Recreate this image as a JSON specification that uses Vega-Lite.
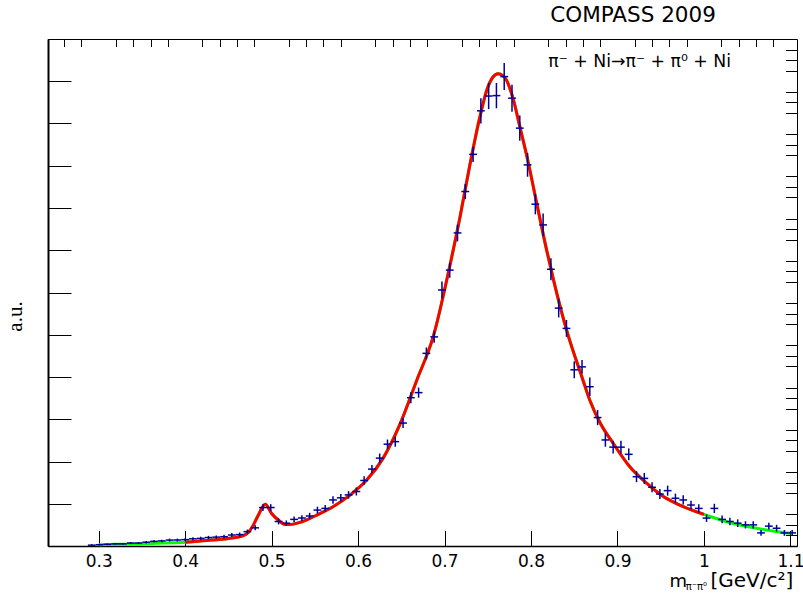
{
  "$schema": "https://vega.github.io/schema/vega-lite/v6.json",
  "width": 749,
  "height": 507,
  "autosize": {"type": "none"},
  "padding": {"left": 48, "top": 39, "right": 6, "bottom": 51},
  "background": "white",
  "config": {"view": {"stroke": "black", "strokeWidth": 1}, "axis": {"grid": false}},
  "datasets": {
    "points": [
      {"m":0.292,"y":0.02,"e":0.02},{"m":0.301,"y":0.03,"e":0.02},{"m":0.310,"y":0.04,"e":0.02},{"m":0.319,"y":0.05,"e":0.02},
      {"m":0.328,"y":0.05,"e":0.02},{"m":0.337,"y":0.07,"e":0.025},{"m":0.346,"y":0.07,"e":0.025},{"m":0.355,"y":0.09,"e":0.03},
      {"m":0.364,"y":0.11,"e":0.03},{"m":0.373,"y":0.12,"e":0.03},{"m":0.382,"y":0.14,"e":0.035},{"m":0.391,"y":0.14,"e":0.035},
      {"m":0.400,"y":0.15,"e":0.035},{"m":0.409,"y":0.17,"e":0.04},{"m":0.418,"y":0.18,"e":0.04},{"m":0.427,"y":0.20,"e":0.04},
      {"m":0.436,"y":0.21,"e":0.04},{"m":0.445,"y":0.22,"e":0.045},{"m":0.454,"y":0.26,"e":0.045},{"m":0.463,"y":0.27,"e":0.05},
      {"m":0.472,"y":0.34,"e":0.05},{"m":0.481,"y":0.43,"e":0.06},{"m":0.490,"y":0.91,"e":0.08},{"m":0.499,"y":0.91,"e":0.08},
      {"m":0.508,"y":0.58,"e":0.07},{"m":0.517,"y":0.54,"e":0.065},{"m":0.526,"y":0.63,"e":0.07},{"m":0.535,"y":0.66,"e":0.07},
      {"m":0.544,"y":0.71,"e":0.075},{"m":0.553,"y":0.85,"e":0.08},{"m":0.562,"y":0.89,"e":0.08},{"m":0.571,"y":1.09,"e":0.09},
      {"m":0.580,"y":1.14,"e":0.09},{"m":0.589,"y":1.21,"e":0.09},{"m":0.598,"y":1.29,"e":0.095},{"m":0.607,"y":1.55,"e":0.10},
      {"m":0.616,"y":1.82,"e":0.10},{"m":0.625,"y":2.08,"e":0.11},{"m":0.634,"y":2.41,"e":0.11},{"m":0.643,"y":2.47,"e":0.12},
      {"m":0.652,"y":2.91,"e":0.12},{"m":0.661,"y":3.51,"e":0.13},{"m":0.670,"y":3.63,"e":0.12},{"m":0.679,"y":4.56,"e":0.14},
      {"m":0.688,"y":4.95,"e":0.14},{"m":0.697,"y":6.06,"e":0.2},{"m":0.706,"y":6.53,"e":0.18},{"m":0.715,"y":7.41,"e":0.2},
      {"m":0.724,"y":8.39,"e":0.18},{"m":0.733,"y":9.27,"e":0.18},{"m":0.742,"y":10.30,"e":0.3},{"m":0.751,"y":10.65,"e":0.31},
      {"m":0.760,"y":10.66,"e":0.3},{"m":0.769,"y":11.11,"e":0.32},{"m":0.778,"y":10.60,"e":0.32},{"m":0.787,"y":9.89,"e":0.3},
      {"m":0.796,"y":9.02,"e":0.28},{"m":0.805,"y":8.09,"e":0.24},{"m":0.814,"y":7.60,"e":0.27},{"m":0.823,"y":6.55,"e":0.26},
      {"m":0.832,"y":5.63,"e":0.22},{"m":0.841,"y":5.15,"e":0.2},{"m":0.850,"y":4.17,"e":0.2},{"m":0.859,"y":4.24,"e":0.16},
      {"m":0.868,"y":3.77,"e":0.22},{"m":0.877,"y":3.04,"e":0.18},{"m":0.886,"y":2.51,"e":0.16},{"m":0.895,"y":2.34,"e":0.15},
      {"m":0.904,"y":2.34,"e":0.15},{"m":0.913,"y":2.17,"e":0.14},{"m":0.922,"y":1.64,"e":0.13},{"m":0.931,"y":1.60,"e":0.13},
      {"m":0.940,"y":1.39,"e":0.12},{"m":0.949,"y":1.23,"e":0.12},{"m":0.958,"y":1.31,"e":0.12},{"m":0.967,"y":1.13,"e":0.11},
      {"m":0.976,"y":1.09,"e":0.11},{"m":0.985,"y":0.97,"e":0.1},{"m":0.994,"y":0.89,"e":0.1},{"m":1.003,"y":0.66,"e":0.09},
      {"m":1.012,"y":0.89,"e":0.11},{"m":1.021,"y":0.63,"e":0.09},{"m":1.030,"y":0.58,"e":0.09},{"m":1.039,"y":0.54,"e":0.09},
      {"m":1.048,"y":0.50,"e":0.085},{"m":1.057,"y":0.50,"e":0.085},{"m":1.066,"y":0.31,"e":0.07},{"m":1.075,"y":0.47,"e":0.08},
      {"m":1.084,"y":0.42,"e":0.08},{"m":1.093,"y":0.31,"e":0.07},{"m":1.102,"y":0.31,"e":0.07}
    ],
    "fit": [
      {"m":0.300,"y":0.03},{"m":0.325,"y":0.04},{"m":0.350,"y":0.05},{"m":0.375,"y":0.07},{"m":0.400,"y":0.09},
      {"m":0.425,"y":0.13},{"m":0.450,"y":0.18},{"m":0.465,"y":0.23},{"m":0.473,"y":0.32},{"m":0.479,"y":0.50},
      {"m":0.4846,"y":0.73},{"m":0.4926,"y":0.99},{"m":0.500,"y":0.77},{"m":0.5077,"y":0.615},{"m":0.5154,"y":0.51},
      {"m":0.521,"y":0.51},{"m":0.535,"y":0.575},{"m":0.554,"y":0.75},{"m":0.571,"y":0.93},{"m":0.591,"y":1.21},
      {"m":0.610,"y":1.56},{"m":0.629,"y":2.08},{"m":0.648,"y":2.86},{"m":0.668,"y":3.93},{"m":0.687,"y":4.96},
      {"m":0.706,"y":6.62},{"m":0.718,"y":7.80},{"m":0.729,"y":8.99},{"m":0.741,"y":10.17},{"m":0.749,"y":10.80},
      {"m":0.756,"y":11.10},{"m":0.762,"y":11.18},{"m":0.770,"y":11.08},{"m":0.7795,"y":10.57},{"m":0.787,"y":9.93},
      {"m":0.797,"y":9.06},{"m":0.8065,"y":8.12},{"m":0.818,"y":7.01},{"m":0.826,"y":6.30},{"m":0.841,"y":5.12},
      {"m":0.860,"y":3.93},{"m":0.868,"y":3.45},{"m":0.880,"y":2.91},{"m":0.895,"y":2.43},{"m":0.914,"y":1.88},
      {"m":0.934,"y":1.48},{"m":0.953,"y":1.17},{"m":0.972,"y":0.97},{"m":0.997,"y":0.77},{"m":1.000,"y":0.75},
      {"m":1.030,"y":0.55},{"m":1.061,"y":0.42},{"m":1.096,"y":0.31},{"m":1.100,"y":0.30}
    ]
  },
  "layer": [
    {
      "data": {"name": "fit"},
      "mark": {"type": "line", "color": "#00ff00", "strokeWidth": 3, "interpolate": "monotone"},
      "encoding": {
        "x": {"field": "m", "type": "quantitative", "scale": {"domain": [0.2414, 1.1076], "nice": false, "zero": false}, "axis": null},
        "y": {"field": "y", "type": "quantitative", "scale": {"domain": [0, 12], "nice": false}, "axis": null}
      }
    },
    {
      "data": {"name": "fit"},
      "transform": [{"filter": "datum.m >= 0.4 && datum.m <= 1.0"}],
      "mark": {"type": "line", "color": "#ff0000", "strokeWidth": 3, "interpolate": "monotone"},
      "encoding": {
        "x": {"field": "m", "type": "quantitative", "scale": {"domain": [0.2414, 1.1076], "nice": false, "zero": false}, "axis": null},
        "y": {"field": "y", "type": "quantitative", "scale": {"domain": [0, 12], "nice": false}, "axis": null}
      }
    },
    {
      "data": {"name": "points"},
      "mark": {"type": "errorbar", "color": "#000099", "thickness": 1.5},
      "encoding": {
        "x": {"field": "m", "type": "quantitative", "scale": {"domain": [0.2414, 1.1076], "nice": false, "zero": false},
          "axis": {"values": [0.3,0.4,0.5,0.6,0.7,0.8,0.9,1.0,1.1], "format": ".1~f", "tickSize": -15.5, "tickColor": "black", "tickWidth": 1,
            "labelFont": "DejaVu Sans", "labelFontSize": 17, "labelColor": "black", "labelPadding": 22.5, "labelFlush": false, "labelOverlap": false,
            "domain": true, "domainColor": "black", "domainWidth": 1.5, "title": null, "grid": false}},
        "y": {"field": "y", "type": "quantitative", "scale": {"domain": [0, 12], "nice": false},
          "axis": {"values": [0,1,2,3,4,5,6,7,8,9,10,11,12], "tickSize": -23, "tickColor": "black", "tickWidth": 1, "labels": false,
            "domain": true, "domainColor": "black", "domainWidth": 2, "grid": false,
            "title": "a.u.", "titleFont": "Liberation Serif", "titleFontSize": 21, "titleFontWeight": "normal", "titleColor": "black",
            "titleAngle": -90, "titleAlign": "center", "titleBaseline": "alphabetic", "titleX": -27, "titleY": 277}},
        "yError": {"field": "e"}
      }
    },
    {
      "data": {"name": "points"},
      "mark": {"type": "tick", "orient": "horizontal", "size": 7.8, "thickness": 1.5, "color": "#000099", "opacity": 1},
      "encoding": {
        "x": {"field": "m", "type": "quantitative", "scale": {"domain": [0.2414, 1.1076], "nice": false, "zero": false},
          "axis": {"values": [0.26,0.28,0.32,0.34,0.36,0.38,0.42,0.44,0.46,0.48,0.52,0.54,0.56,0.58,0.62,0.64,0.66,0.68,0.72,0.74,0.76,0.78,0.82,0.84,0.86,0.88,0.92,0.94,0.96,0.98,1.02,1.04,1.06,1.08],
            "tickSize": -7.5, "tickColor": "black", "tickWidth": 1, "labels": false, "domain": false, "title": null, "grid": false}},
        "y": {"field": "y", "type": "quantitative", "scale": {"domain": [0, 12], "nice": false},
          "axis": {"values": [0.25,0.5,0.75,1.25,1.5,1.75,2.25,2.5,2.75,3.25,3.5,3.75,4.25,4.5,4.75,5.25,5.5,5.75,6.25,6.5,6.75,7.25,7.5,7.75,8.25,8.5,8.75,9.25,9.5,9.75,10.25,10.5,10.75,11.25,11.5,11.75],
            "tickSize": -11.5, "tickColor": "black", "tickWidth": 1, "labels": false, "domain": false, "title": null, "grid": false}}
      }
    },
    {
      "data": {"values": [{}]},
      "mark": {"type": "text", "text": "COMPASS 2009", "font": "DejaVu Sans", "fontSize": 21.5, "align": "center", "baseline": "alphabetic", "color": "black"},
      "encoding": {
        "x": {"datum": 0.918, "type": "quantitative", "axis": null},
        "y": {"datum": 12.41, "type": "quantitative", "axis": null}
      }
    },
    {
      "data": {"values": [{}]},
      "mark": {"type": "text", "text": "π⁻ + Ni→π⁻ + π⁰ + Ni", "font": "DejaVu Sans", "fontSize": 17.3, "align": "left", "baseline": "alphabetic", "color": "black"},
      "encoding": {
        "x": {"datum": 0.82, "type": "quantitative", "axis": null},
        "y": {"datum": 11.34, "type": "quantitative", "axis": null}
      }
    },
    {
      "data": {"values": [{}]},
      "mark": {"type": "text", "text": "[GeV/c²]", "font": "DejaVu Sans", "fontSize": 20, "align": "right", "baseline": "alphabetic", "color": "black", "dx": -3.7, "dy": 41.3},
      "encoding": {
        "x": {"datum": 1.1076, "type": "quantitative", "axis": null},
        "y": {"datum": 0, "type": "quantitative", "axis": null}
      }
    },
    {
      "data": {"values": [{}]},
      "mark": {"type": "text", "text": "π⁻π⁰", "font": "DejaVu Sans", "fontSize": 10, "align": "right", "baseline": "alphabetic", "color": "black", "dx": -90, "dy": 44},
      "encoding": {
        "x": {"datum": 1.1076, "type": "quantitative", "axis": null},
        "y": {"datum": 0, "type": "quantitative", "axis": null}
      }
    },
    {
      "data": {"values": [{}]},
      "mark": {"type": "text", "text": "m", "font": "DejaVu Sans", "fontSize": 18, "align": "right", "baseline": "alphabetic", "color": "black", "dx": -110, "dy": 41.3},
      "encoding": {
        "x": {"datum": 1.1076, "type": "quantitative", "axis": null},
        "y": {"datum": 0, "type": "quantitative", "axis": null}
      }
    }
  ],
  "resolve": {"axis": {"x": "independent", "y": "independent"}}
}
